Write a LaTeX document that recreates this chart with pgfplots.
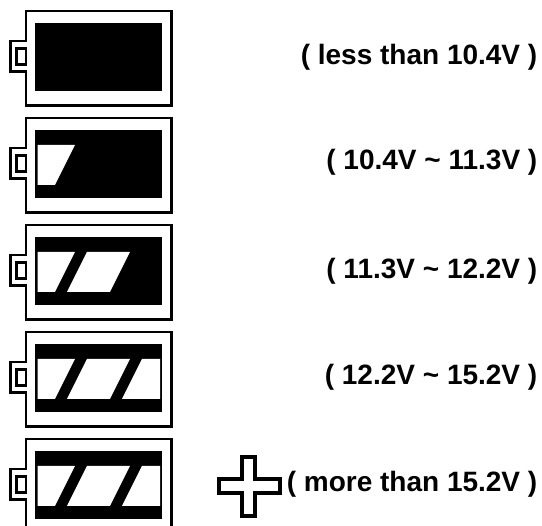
\documentclass[border=0pt]{standalone}
\usepackage{fontspec}
\setmainfont{Liberation Sans}
\usepackage{pgfplots}
\usepackage{pgfplotstable}
\pgfplotsset{compat=1.18}

% outlines in image pixels, relative to the first battery
\pgfplotstableread{
x y
26.2 11.2
171.5 11.2
171.5 105.5
26.2 105.5
26.2 71.5
10.5 71.5
10.5 41.2
26.2 41.2
}\bodyshape
\pgfplotstableread{
x y
16.5 48.5
26.2 48.5
26.2 64.5
16.5 64.5
}\postshape
\pgfplotstableread{
x y
35 23
162 23
162 91
35 91
}\blackshape
\pgfplotstableread{
x y
37.5 38
75 38
55 78
37.5 78
}\windowa
\pgfplotstableread{
x y
87 38
130 38
110 78
67 78
}\windowb
\pgfplotstableread{
x y
142 38
160 38
160 78
122 78
}\windowc
\pgfplotstableread{
x y
242 457
254.7 457
254.7 478.7
279.7 478.7
279.7 493
254.7 493
254.7 516
242 516
242 493
218.7 493
218.7 478.7
242 478.7
}\plusshape

\newcommand{\drawshape}[2]{\addplot[draw=black, line width=2.4pt, fill=white, line join=miter] table[y expr=\thisrow{y}+#2] {#1} --cycle;}
\newcommand{\drawblack}[2]{\addplot[draw=none, fill=black] table[y expr=\thisrow{y}+#2] {#1} --cycle;}
\newcommand{\drawwindow}[2]{\addplot[draw=none, fill=white] table[y expr=\thisrow{y}+#2] {#1} --cycle;}

\begin{document}
\begin{tikzpicture}
\begin{axis}[
    width=542pt, height=526pt,
    scale only axis,
    xmin=0, xmax=542,
    ymin=0, ymax=526,
    y dir=reverse,
    axis lines=none,
    clip=true,
]
    % white page, keeps the picture at full size
    \addplot[draw=white, fill=white] coordinates {(0,0) (542,0) (542,526) (0,526)} --cycle;
    % battery 1
    \drawshape{\bodyshape}{0}
    \drawshape{\postshape}{0}
    \drawblack{\blackshape}{0}
    % battery 2
    \drawshape{\bodyshape}{107}
    \drawshape{\postshape}{107}
    \drawblack{\blackshape}{107}
    \drawwindow{\windowa}{107}
    % battery 3
    \drawshape{\bodyshape}{214}
    \drawshape{\postshape}{214}
    \drawblack{\blackshape}{214}
    \drawwindow{\windowa}{214}
    \drawwindow{\windowb}{214}
    % battery 4
    \drawshape{\bodyshape}{321}
    \drawshape{\postshape}{321}
    \drawblack{\blackshape}{321}
    \drawwindow{\windowa}{321}
    \drawwindow{\windowb}{321}
    \drawwindow{\windowc}{321}
    % battery 5
    \drawshape{\bodyshape}{428}
    \drawshape{\postshape}{428}
    \drawblack{\blackshape}{428}
    \drawwindow{\windowa}{428}
    \drawwindow{\windowb}{428}
    \drawwindow{\windowc}{428}
    % plus sign
    \addplot[draw=black, line width=4pt, fill=white] table {\plusshape} --cycle;

    \node[inner sep=0pt, anchor=base east, font=\bfseries\fontsize{28}{30}\selectfont] at (axis cs:537.5,65) {( less than 10.4V )};
    \node[inner sep=0pt, anchor=base east, font=\bfseries\fontsize{28}{30}\selectfont] at (axis cs:537.5,170) {( 10.4V \textasciitilde{} 11.3V )};
    \node[inner sep=0pt, anchor=base east, font=\bfseries\fontsize{28}{30}\selectfont] at (axis cs:537.5,279) {( 11.3V \textasciitilde{} 12.2V )};
    \node[inner sep=0pt, anchor=base east, font=\bfseries\fontsize{28}{30}\selectfont] at (axis cs:537.5,385) {( 12.2V \textasciitilde{} 15.2V )};
    \node[inner sep=0pt, anchor=base east, font=\bfseries\fontsize{28}{30}\selectfont] at (axis cs:537.5,492) {( more than 15.2V )};
\end{axis}
\end{tikzpicture}
\end{document}
